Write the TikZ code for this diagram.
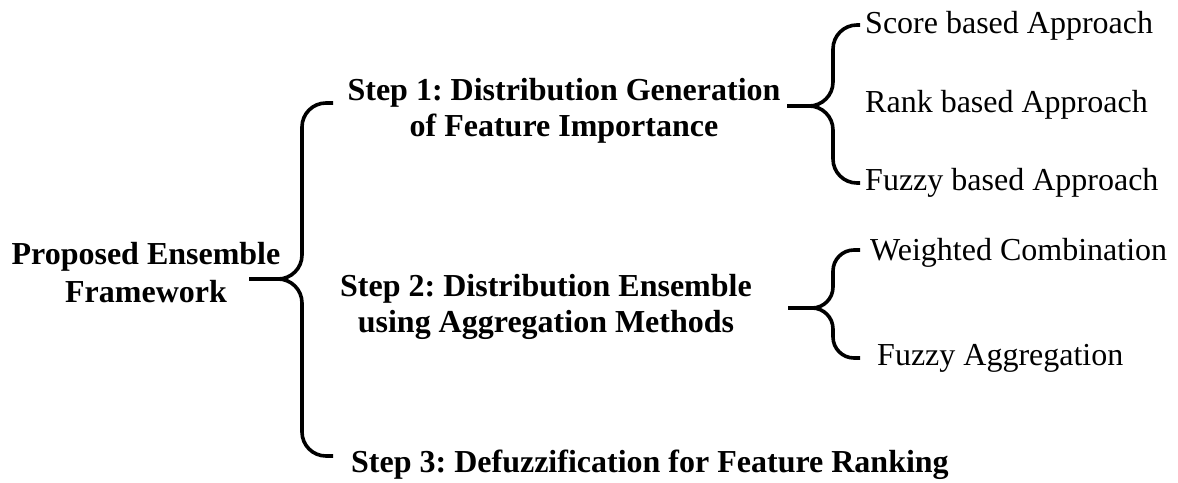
\documentclass[tikz,border=0pt]{standalone}
\usepackage{fontspec}
\setmainfont{Liberation Serif}
\frenchspacing
\begin{document}
\begin{tikzpicture}[x=1pt,y=-1pt,
  brace/.style={line width=3.6pt, rounded corners=24pt},
  smallbrace/.style={line width=3.6pt, rounded corners=21pt},
  stepbox/.style={font=\fontsize{32}{36}\selectfont\bfseries, align=center, inner sep=0pt},
  rootbox/.style={font=\fontsize{32}{38}\selectfont\bfseries, align=center, inner sep=0pt},
  leaf/.style={font=\fontsize{32}{38}\selectfont, inner sep=0pt, anchor=base west}]
\useasboundingbox (0,0) rectangle (1178,482);

% framework and its three steps
\node[rootbox] (root) at (146,273) {Proposed Ensemble\\Framework};
\node[stepbox] (s1) at (564,110.5) {Step 1: Distribution Generation\\of Feature Importance};
\node[stepbox] (s2) at (546,306.5) {Step 2: Distribution Ensemble\\using Aggregation Methods};
\node[stepbox, anchor=base west] (s3) at (351,472) {Step 3: Defuzzification for Feature Ranking};

% approaches of step 1
\node[leaf] (a1) at (865,33) {Score based Approach};
\node[leaf] (a2) at (865,112) {Rank based Approach};
\node[leaf] (a3) at (865,190) {Fuzzy based Approach};

% aggregation methods of step 2
\node[leaf] (b1) at (870,260) {Weighted Combination};
\node[leaf] (b2) at (877,365) {Fuzzy Aggregation};

% brace from the framework to the steps
\coordinate (rt) at (249,279);
\coordinate (rtop) at (333,103);
\coordinate (rbot) at (333,456);
\draw[brace] (rt) -- ++(53,0) |- (rtop);
\draw[brace] (rt) -- ++(53,0) |- (rbot);

% brace from step 1 to its approaches
\coordinate (p1) at (787,106);
\coordinate (p1top) at (860,25);
\coordinate (p1bot) at (860,183);
\draw[brace] (p1) -- ++(46,0) |- (p1top);
\draw[brace] (p1) -- ++(46,0) |- (p1bot);

% brace from step 2 to its methods
\coordinate (p2) at (788,308);
\coordinate (p2top) at (860,250);
\coordinate (p2bot) at (860,358);
\draw[smallbrace] (p2) -- ++(45,0) |- (p2top);
\draw[smallbrace] (p2) -- ++(45,0) |- (p2bot);
\end{tikzpicture}
\end{document}
